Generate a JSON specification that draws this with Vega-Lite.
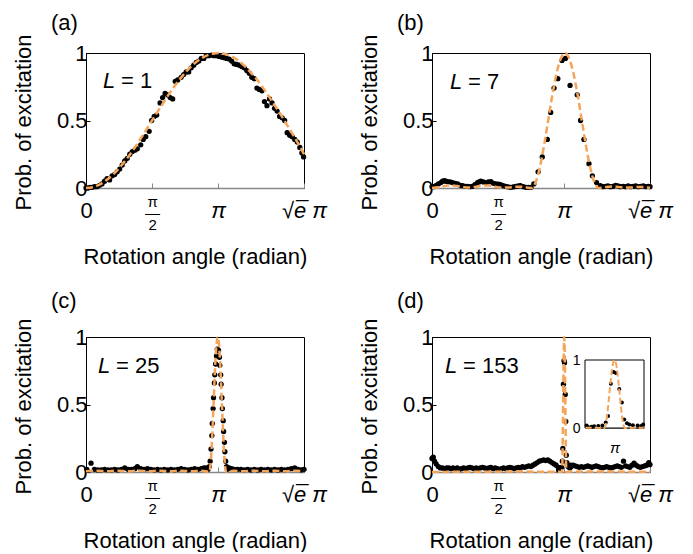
{
  "$schema": "https://vega.github.io/schema/vega-lite/v6.json",
  "padding": {"left": 11, "top": 11, "right": 5, "bottom": 0},
  "background": "white",
  "config": {
    "font": "Liberation Sans",
    "view": {"stroke": "black", "strokeWidth": 1},
    "axis": {"labelFont": "Liberation Sans", "titleFont": "Liberation Sans", "labelFontSize": 22, "titleFontSize": 22, "titleFontWeight": "normal", "labelColor": "black", "titleColor": "black", "grid": false},
    "title": {"font": "Liberation Sans", "fontSize": 22, "fontWeight": "normal", "anchor": "start", "frame": "group", "dx": -35, "baseline": "alphabetic", "color": "black"}
  },
  "datasets": {
    "a_pts": [
      {"t":0.00,"p":0.00},{"t":0.05,"p":0.00},{"t":0.10,"p":0.005},{"t":0.15,"p":0.005},{"t":0.20,"p":0.01},{"t":0.26,"p":0.01},{"t":0.32,"p":0.02},{"t":0.38,"p":0.03},{"t":0.44,"p":0.05},{"t":0.50,"p":0.07},{"t":0.56,"p":0.06},{"t":0.62,"p":0.09},{"t":0.68,"p":0.10},{"t":0.74,"p":0.12},{"t":0.80,"p":0.14},{"t":0.86,"p":0.17},{"t":0.92,"p":0.20},{"t":0.98,"p":0.22},{"t":1.04,"p":0.25},{"t":1.10,"p":0.27},{"t":1.16,"p":0.28},{"t":1.22,"p":0.29},{"t":1.30,"p":0.32},{"t":1.36,"p":0.36},{"t":1.42,"p":0.38},{"t":1.50,"p":0.42},{"t":1.56,"p":0.50},{"t":1.62,"p":0.53},{"t":1.68,"p":0.54},{"t":1.76,"p":0.63},{"t":1.82,"p":0.67},{"t":1.88,"p":0.70},{"t":1.94,"p":0.69},{"t":2.00,"p":0.67},{"t":2.06,"p":0.66},{"t":2.12,"p":0.79},{"t":2.18,"p":0.80},{"t":2.26,"p":0.82},{"t":2.32,"p":0.84},{"t":2.38,"p":0.86},{"t":2.44,"p":0.86},{"t":2.50,"p":0.89},{"t":2.56,"p":0.91},{"t":2.62,"p":0.93},{"t":2.68,"p":0.94},{"t":2.74,"p":0.96},{"t":2.80,"p":0.96},{"t":2.86,"p":0.98},{"t":2.92,"p":0.98},{"t":2.98,"p":0.985},{"t":3.04,"p":0.98},{"t":3.10,"p":0.98},{"t":3.16,"p":0.975},{"t":3.22,"p":0.97},{"t":3.28,"p":0.965},{"t":3.34,"p":0.96},{"t":3.40,"p":0.955},{"t":3.46,"p":0.94},{"t":3.52,"p":0.92},{"t":3.58,"p":0.915},{"t":3.64,"p":0.91},{"t":3.70,"p":0.90},{"t":3.76,"p":0.89},{"t":3.82,"p":0.87},{"t":3.88,"p":0.85},{"t":3.94,"p":0.82},{"t":4.00,"p":0.81},{"t":4.06,"p":0.74},{"t":4.12,"p":0.73},{"t":4.18,"p":0.72},{"t":4.24,"p":0.64},{"t":4.30,"p":0.61},{"t":4.36,"p":0.66},{"t":4.42,"p":0.63},{"t":4.48,"p":0.59},{"t":4.54,"p":0.57},{"t":4.60,"p":0.53},{"t":4.66,"p":0.52},{"t":4.72,"p":0.50},{"t":4.78,"p":0.41},{"t":4.84,"p":0.39},{"t":4.90,"p":0.38},{"t":4.96,"p":0.36},{"t":5.02,"p":0.34},{"t":5.08,"p":0.30},{"t":5.13,"p":0.26},{"t":5.17,"p":0.23}
    ],
    "a_fit": [
      {"t":0,"p":0},{"t":0.16,"p":0.006},{"t":0.32,"p":0.025},{"t":0.48,"p":0.057},{"t":0.64,"p":0.099},{"t":0.8,"p":0.152},{"t":0.96,"p":0.213},{"t":1.12,"p":0.282},{"t":1.28,"p":0.357},{"t":1.44,"p":0.435},{"t":1.6,"p":0.515},{"t":1.76,"p":0.594},{"t":1.92,"p":0.671},{"t":2.08,"p":0.744},{"t":2.24,"p":0.81},{"t":2.4,"p":0.869},{"t":2.56,"p":0.918},{"t":2.72,"p":0.956},{"t":2.88,"p":0.983},{"t":3.04,"p":0.997},{"t":3.14,"p":1.0},{"t":3.28,"p":0.995},{"t":3.44,"p":0.978},{"t":3.6,"p":0.948},{"t":3.76,"p":0.906},{"t":3.92,"p":0.853},{"t":4.08,"p":0.796},{"t":4.24,"p":0.727},{"t":4.4,"p":0.653},{"t":4.56,"p":0.576},{"t":4.72,"p":0.496},{"t":4.88,"p":0.414},{"t":5.04,"p":0.33},{"t":5.18,"p":0.25}
    ],
    "b_pts": [
      {"t":0.00,"p":0.01},{"t":0.05,"p":0.01},{"t":0.09,"p":0.017},{"t":0.15,"p":0.03},{"t":0.21,"p":0.04},{"t":0.25,"p":0.05},{"t":0.29,"p":0.055},{"t":0.33,"p":0.05},{"t":0.37,"p":0.047},{"t":0.43,"p":0.045},{"t":0.49,"p":0.04},{"t":0.55,"p":0.035},{"t":0.61,"p":0.03},{"t":0.67,"p":0.02},{"t":0.73,"p":0.017},{"t":0.79,"p":0.012},{"t":0.84,"p":0.012},{"t":0.90,"p":0.01},{"t":0.96,"p":0.012},{"t":1.02,"p":0.025},{"t":1.08,"p":0.04},{"t":1.12,"p":0.045},{"t":1.16,"p":0.05},{"t":1.22,"p":0.045},{"t":1.28,"p":0.04},{"t":1.34,"p":0.045},{"t":1.40,"p":0.047},{"t":1.46,"p":0.035},{"t":1.52,"p":0.03},{"t":1.58,"p":0.028},{"t":1.63,"p":0.025},{"t":1.69,"p":0.018},{"t":1.75,"p":0.012},{"t":1.81,"p":0.008},{"t":1.87,"p":0.005},{"t":1.93,"p":0.008},{"t":1.99,"p":0.012},{"t":2.05,"p":0.015},{"t":2.10,"p":0.017},{"t":2.17,"p":0.01},{"t":2.23,"p":0.005},{"t":2.29,"p":0.005},{"t":2.35,"p":0.005},
      {"t":2.42,"p":0.03},{"t":2.52,"p":0.12},{"t":2.62,"p":0.23},{"t":2.74,"p":0.36},{"t":2.82,"p":0.56},{"t":2.90,"p":0.74},{"t":2.99,"p":0.81},{"t":3.09,"p":0.945},{"t":3.17,"p":0.96},{"t":3.28,"p":0.76},{"t":3.45,"p":0.69},{"t":3.53,"p":0.50},{"t":3.61,"p":0.36},{"t":3.73,"p":0.18},{"t":3.81,"p":0.09},{"t":3.91,"p":0.04},{"t":4.00,"p":0.017},
      {"t":4.06,"p":0.01},{"t":4.12,"p":0.012},{"t":4.18,"p":0.015},{"t":4.24,"p":0.01},{"t":4.30,"p":0.012},{"t":4.36,"p":0.02},{"t":4.42,"p":0.015},{"t":4.48,"p":0.01},{"t":4.54,"p":0.012},{"t":4.60,"p":0.01},{"t":4.66,"p":0.015},{"t":4.72,"p":0.01},{"t":4.78,"p":0.012},{"t":4.84,"p":0.015},{"t":4.90,"p":0.01},{"t":4.96,"p":0.012},{"t":5.02,"p":0.015},{"t":5.08,"p":0.01},{"t":5.14,"p":0.012},{"t":5.18,"p":0.01}
    ],
    "b_fit": [
      {"t":0,"p":0},{"t":0.15,"p":0.006},{"t":0.3,"p":0.015},{"t":0.45,"p":0.02},{"t":0.6,"p":0.015},{"t":0.75,"p":0.006},{"t":0.9,"p":0.003},{"t":1.05,"p":0.01},{"t":1.2,"p":0.018},{"t":1.35,"p":0.018},{"t":1.5,"p":0.01},{"t":1.65,"p":0.004},{"t":1.8,"p":0.003},{"t":1.95,"p":0.008},{"t":2.1,"p":0.01},{"t":2.25,"p":0.004},{"t":2.36,"p":0},{"t":2.46,"p":0.04},{"t":2.56,"p":0.15},{"t":2.66,"p":0.31},{"t":2.76,"p":0.5},{"t":2.86,"p":0.69},{"t":2.96,"p":0.85},{"t":3.06,"p":0.96},{"t":3.16,"p":1.0},{"t":3.26,"p":0.96},{"t":3.36,"p":0.85},{"t":3.46,"p":0.69},{"t":3.56,"p":0.5},{"t":3.66,"p":0.31},{"t":3.76,"p":0.15},{"t":3.86,"p":0.04},{"t":3.96,"p":0},{"t":4.1,"p":0.006},{"t":4.3,"p":0.012},{"t":4.5,"p":0.005},{"t":4.7,"p":0.003},{"t":4.9,"p":0.008},{"t":5.05,"p":0.006},{"t":5.18,"p":0.002}
    ],
    "c_pts": [
      {"t":0.02,"p":0.02},{"t":0.12,"p":0.065},{"t":0.20,"p":0.02},{"t":0.28,"p":0.015},{"t":0.36,"p":0.015},{"t":0.44,"p":0.02},{"t":0.52,"p":0.015},{"t":0.60,"p":0.015},{"t":0.68,"p":0.02},{"t":0.76,"p":0.015},{"t":0.84,"p":0.02},{"t":0.92,"p":0.03},{"t":1.00,"p":0.02},{"t":1.08,"p":0.02},{"t":1.16,"p":0.025},{"t":1.22,"p":0.04},{"t":1.30,"p":0.025},{"t":1.38,"p":0.02},{"t":1.46,"p":0.025},{"t":1.54,"p":0.02},{"t":1.62,"p":0.015},{"t":1.70,"p":0.02},{"t":1.78,"p":0.015},{"t":1.86,"p":0.02},{"t":1.94,"p":0.015},{"t":2.02,"p":0.02},{"t":2.10,"p":0.015},{"t":2.18,"p":0.02},{"t":2.26,"p":0.025},{"t":2.34,"p":0.02},{"t":2.42,"p":0.015},{"t":2.50,"p":0.02},{"t":2.58,"p":0.025},{"t":2.66,"p":0.02},{"t":2.74,"p":0.025},{"t":2.80,"p":0.03},{"t":2.86,"p":0.03},{"t":2.90,"p":0.02},
      {"t":2.93,"p":0.04},{"t":2.95,"p":0.08},{"t":2.97,"p":0.17},{"t":2.99,"p":0.27},{"t":3.00,"p":0.36},{"t":3.02,"p":0.47},{"t":3.03,"p":0.55},{"t":3.05,"p":0.66},{"t":3.06,"p":0.72},{"t":3.08,"p":0.80},{"t":3.10,"p":0.86},{"t":3.12,"p":0.91},{"t":3.15,"p":0.90},{"t":3.17,"p":0.85},{"t":3.18,"p":0.79},{"t":3.20,"p":0.72},{"t":3.21,"p":0.65},{"t":3.23,"p":0.55},{"t":3.24,"p":0.47},{"t":3.26,"p":0.38},{"t":3.27,"p":0.30},{"t":3.29,"p":0.22},{"t":3.30,"p":0.15},{"t":3.32,"p":0.08},{"t":3.34,"p":0.04},{"t":3.36,"p":0.02},
      {"t":3.40,"p":0.03},{"t":3.46,"p":0.025},{"t":3.52,"p":0.02},{"t":3.60,"p":0.02},{"t":3.68,"p":0.02},{"t":3.76,"p":0.015},{"t":3.84,"p":0.02},{"t":3.92,"p":0.015},{"t":4.00,"p":0.02},{"t":4.08,"p":0.015},{"t":4.16,"p":0.02},{"t":4.24,"p":0.015},{"t":4.32,"p":0.02},{"t":4.40,"p":0.015},{"t":4.48,"p":0.02},{"t":4.56,"p":0.015},{"t":4.64,"p":0.02},{"t":4.72,"p":0.015},{"t":4.80,"p":0.02},{"t":4.88,"p":0.025},{"t":4.96,"p":0.03},{"t":5.04,"p":0.02},{"t":5.12,"p":0.015},{"t":5.18,"p":0.02}
    ],
    "c_fit": [
      {"t":0,"p":0.005},{"t":0.25,"p":0.01},{"t":0.5,"p":0.005},{"t":0.75,"p":0.01},{"t":1.0,"p":0.005},{"t":1.25,"p":0.01},{"t":1.5,"p":0.005},{"t":1.75,"p":0.01},{"t":2.0,"p":0.005},{"t":2.25,"p":0.01},{"t":2.5,"p":0.005},{"t":2.75,"p":0.01},{"t":2.93,"p":0},{"t":2.98,"p":0.146},{"t":3.03,"p":0.5},{"t":3.08,"p":0.854},{"t":3.13,"p":1.0},{"t":3.18,"p":0.854},{"t":3.23,"p":0.5},{"t":3.28,"p":0.146},{"t":3.33,"p":0},{"t":3.5,"p":0.01},{"t":3.75,"p":0.005},{"t":4.0,"p":0.01},{"t":4.25,"p":0.005},{"t":4.5,"p":0.01},{"t":4.75,"p":0.005},{"t":5.0,"p":0.01},{"t":5.18,"p":0.005}
    ],
    "d_pts": [
      {"t":0.00,"p":0.10},{"t":0.03,"p":0.11},{"t":0.06,"p":0.08},{"t":0.10,"p":0.06},{"t":0.15,"p":0.04},{"t":0.20,"p":0.03},{"t":0.25,"p":0.03},{"t":0.30,"p":0.025},{"t":0.35,"p":0.03},{"t":0.40,"p":0.03},{"t":0.45,"p":0.025},{"t":0.50,"p":0.03},{"t":0.55,"p":0.025},{"t":0.60,"p":0.03},{"t":0.65,"p":0.02},{"t":0.70,"p":0.025},{"t":0.75,"p":0.03},{"t":0.80,"p":0.025},{"t":0.85,"p":0.03},{"t":0.90,"p":0.035},{"t":0.95,"p":0.03},{"t":1.00,"p":0.025},{"t":1.05,"p":0.03},{"t":1.10,"p":0.025},{"t":1.15,"p":0.03},{"t":1.20,"p":0.035},{"t":1.25,"p":0.03},{"t":1.30,"p":0.025},{"t":1.35,"p":0.03},{"t":1.40,"p":0.035},{"t":1.45,"p":0.025},{"t":1.50,"p":0.03},{"t":1.55,"p":0.025},{"t":1.60,"p":0.02},{"t":1.65,"p":0.025},{"t":1.70,"p":0.03},{"t":1.75,"p":0.025},{"t":1.80,"p":0.03},{"t":1.85,"p":0.035},{"t":1.90,"p":0.03},{"t":1.95,"p":0.025},{"t":2.00,"p":0.03},{"t":2.05,"p":0.035},{"t":2.10,"p":0.03},{"t":2.15,"p":0.04},{"t":2.20,"p":0.035},{"t":2.25,"p":0.04},{"t":2.30,"p":0.045},{"t":2.35,"p":0.04},{"t":2.40,"p":0.05},{"t":2.45,"p":0.06},{"t":2.50,"p":0.07},{"t":2.55,"p":0.08},{"t":2.60,"p":0.085},{"t":2.65,"p":0.09},{"t":2.70,"p":0.085},{"t":2.75,"p":0.09},{"t":2.80,"p":0.08},{"t":2.85,"p":0.07},{"t":2.90,"p":0.06},{"t":2.95,"p":0.05},{"t":3.00,"p":0.035},
      {"t":3.007,"p":0.015},{"t":3.025,"p":0.02},{"t":3.038,"p":0.025},{"t":3.059,"p":0.03},{"t":3.080,"p":0.035},{"t":3.097,"p":0.08},{"t":3.109,"p":0.175},{"t":3.123,"p":0.65},{"t":3.137,"p":0.825},{"t":3.149,"p":0.81},{"t":3.166,"p":0.575},{"t":3.179,"p":0.375},{"t":3.191,"p":0.125},{"t":3.205,"p":0.07},{"t":3.217,"p":0.05},{"t":3.235,"p":0.04},{"t":3.259,"p":0.035},{"t":3.277,"p":0.03},{"t":3.287,"p":0.05},
      {"t":3.30,"p":0.04},{"t":3.35,"p":0.05},{"t":3.40,"p":0.045},{"t":3.45,"p":0.04},{"t":3.50,"p":0.035},{"t":3.55,"p":0.04},{"t":3.60,"p":0.035},{"t":3.65,"p":0.04},{"t":3.70,"p":0.045},{"t":3.75,"p":0.04},{"t":3.80,"p":0.035},{"t":3.85,"p":0.04},{"t":3.90,"p":0.045},{"t":3.95,"p":0.04},{"t":4.00,"p":0.035},{"t":4.05,"p":0.03},{"t":4.10,"p":0.035},{"t":4.15,"p":0.04},{"t":4.20,"p":0.035},{"t":4.25,"p":0.03},{"t":4.30,"p":0.035},{"t":4.35,"p":0.04},{"t":4.40,"p":0.045},{"t":4.45,"p":0.04},{"t":4.50,"p":0.035},{"t":4.55,"p":0.08},{"t":4.60,"p":0.045},{"t":4.65,"p":0.04},{"t":4.70,"p":0.035},{"t":4.75,"p":0.05},{"t":4.80,"p":0.065},{"t":4.85,"p":0.05},{"t":4.90,"p":0.04},{"t":4.95,"p":0.035},{"t":5.00,"p":0.04},{"t":5.05,"p":0.045},{"t":5.10,"p":0.05},{"t":5.15,"p":0.07},{"t":5.18,"p":0.055}
    ],
    "d_fit": [
      {"t":0,"p":0},{"t":1.0,"p":0.002},{"t":2.0,"p":0.003},{"t":2.995,"p":0.002},{"t":3.05,"p":0.002},{"t":3.089,"p":0},{"t":3.0966,"p":0.05},{"t":3.1041,"p":0.19},{"t":3.1116,"p":0.39},{"t":3.1191,"p":0.61},{"t":3.1266,"p":0.81},{"t":3.1341,"p":0.95},{"t":3.1416,"p":1.0},{"t":3.1491,"p":0.95},{"t":3.1566,"p":0.81},{"t":3.1641,"p":0.61},{"t":3.1716,"p":0.39},{"t":3.1791,"p":0.19},{"t":3.1866,"p":0.05},{"t":3.1941,"p":0},{"t":3.24,"p":0.002},{"t":3.29,"p":0.003},{"t":4.0,"p":0.003},{"t":5.18,"p":0.002}
    ]
  },
  "concat": [
    {
      "width": 218, "height": 135,
      "title": {"text": "(a)", "offset": -1},
      "layer": [
        {"data": {"name": "a_pts"}, "mark": {"type": "circle", "color": "black", "size": 28, "opacity": 1},
         "encoding": {
           "x": {"field": "t", "type": "quantitative", "scale": {"domain": [0, 5.1796], "nice": false, "zero": false},
                 "axis": {"values": [0, 1.5708, 3.1416, 5.1796], "labelExpr": "datum.value < 0.5 ? '0' : datum.value < 2 ? ['π', '—', '2'] : datum.value < 4 ? 'π' : '√e̅ π'", "labelFontSize": {"condition": {"test": "datum.value > 1 && datum.value < 2", "value": 15}, "value": 22}, "labelFontStyle": {"condition": {"test": "datum.value > 3", "value": "italic"}, "value": "normal"}, "labelPadding": {"condition": {"test": "datum.value > 1 && datum.value < 2", "value": 11}, "value": 17.5}, "labelLineHeight": 11.5, "labelFlush": false, "labelOverlap": false, "labelBound": false, "tickSize": -5, "tickColor": "#888888", "domainColor": "#888888", "domainWidth": 1.5, "title": "Rotation angle (radian)", "titleX": 109, "titleY": 75, "titleBaseline": "alphabetic", "titleAlign": "center"}},
           "y": {"field": "p", "type": "quantitative", "scale": {"domain": [0, 1], "nice": false},
                 "axis": {"values": [0, 0.5, 1], "format": "~g", "labelPadding": 3, "tickSize": -4, "tickColor": "black", "domainColor": "black", "title": "Prob. of excitation", "titleX": -63, "titleY": 69, "titleAngle": 270, "titleAlign": "center", "titleBaseline": "middle"}}
         }},
        {"data": {"name": "a_fit"}, "mark": {"type": "line", "color": "#F5A55A", "strokeWidth": 2.5, "strokeDash": [7, 3.5], "interpolate": "monotone"},
         "encoding": {"x": {"field": "t", "type": "quantitative"}, "y": {"field": "p", "type": "quantitative"}}},
        {"data": {"values": [{"t": 0.404, "p": 0.793, "l": "L", "r": "= 1"}]}, "mark": {"type": "text", "fontSize": 22, "fontStyle": "italic", "align": "left", "baseline": "middle", "color": "black"},
         "encoding": {"x": {"field": "t", "type": "quantitative"}, "y": {"field": "p", "type": "quantitative"}, "text": {"field": "l"}}},
        {"data": {"values": [{"t": 0.404, "p": 0.793, "l": "L", "r": "= 1"}]}, "mark": {"type": "text", "fontSize": 22, "align": "left", "baseline": "middle", "dx": 18, "color": "black"},
         "encoding": {"x": {"field": "t", "type": "quantitative"}, "y": {"field": "p", "type": "quantitative"}, "text": {"field": "r"}}}
      ]
    },
    {
      "width": 218, "height": 135,
      "title": {"text": "(b)", "offset": -1},
      "layer": [
        {"data": {"name": "b_pts"}, "mark": {"type": "circle", "color": "black", "size": 28, "opacity": 1},
         "encoding": {
           "x": {"field": "t", "type": "quantitative", "scale": {"domain": [0, 5.1796], "nice": false, "zero": false},
                 "axis": {"values": [0, 1.5708, 3.1416, 5.1796], "labelExpr": "datum.value < 0.5 ? '0' : datum.value < 2 ? ['π', '—', '2'] : datum.value < 4 ? 'π' : '√e̅ π'", "labelFontSize": {"condition": {"test": "datum.value > 1 && datum.value < 2", "value": 15}, "value": 22}, "labelFontStyle": {"condition": {"test": "datum.value > 3", "value": "italic"}, "value": "normal"}, "labelPadding": {"condition": {"test": "datum.value > 1 && datum.value < 2", "value": 11}, "value": 17.5}, "labelLineHeight": 11.5, "labelFlush": false, "labelOverlap": false, "labelBound": false, "tickSize": -5, "tickColor": "#888888", "domainColor": "#888888", "domainWidth": 1.5, "title": "Rotation angle (radian)", "titleX": 109, "titleY": 75, "titleBaseline": "alphabetic", "titleAlign": "center"}},
           "y": {"field": "p", "type": "quantitative", "scale": {"domain": [0, 1], "nice": false},
                 "axis": {"values": [0, 0.5, 1], "format": "~g", "labelPadding": 3, "tickSize": -4, "tickColor": "black", "domainColor": "black", "title": "Prob. of excitation", "titleX": -63, "titleY": 69, "titleAngle": 270, "titleAlign": "center", "titleBaseline": "middle"}}
         }},
        {"data": {"name": "b_fit"}, "mark": {"type": "line", "color": "#F5A55A", "strokeWidth": 2.5, "strokeDash": [7, 3.5], "interpolate": "monotone"},
         "encoding": {"x": {"field": "t", "type": "quantitative"}, "y": {"field": "p", "type": "quantitative"}}},
        {"data": {"values": [{"t": 0.43, "p": 0.785, "l": "L", "r": "= 7"}]}, "mark": {"type": "text", "fontSize": 22, "fontStyle": "italic", "align": "left", "baseline": "middle", "color": "black"},
         "encoding": {"x": {"field": "t", "type": "quantitative"}, "y": {"field": "p", "type": "quantitative"}, "text": {"field": "l"}}},
        {"data": {"values": [{"t": 0.43, "p": 0.785, "l": "L", "r": "= 7"}]}, "mark": {"type": "text", "fontSize": 22, "align": "left", "baseline": "middle", "dx": 18, "color": "black"},
         "encoding": {"x": {"field": "t", "type": "quantitative"}, "y": {"field": "p", "type": "quantitative"}, "text": {"field": "r"}}}
      ]
    },
    {
      "width": 218, "height": 135,
      "title": {"text": "(c)", "offset": 5},
      "layer": [
        {"data": {"name": "c_pts"}, "mark": {"type": "circle", "color": "black", "size": 28, "opacity": 1},
         "encoding": {
           "x": {"field": "t", "type": "quantitative", "scale": {"domain": [0, 5.1796], "nice": false, "zero": false},
                 "axis": {"values": [0, 1.5708, 3.1416, 5.1796], "labelExpr": "datum.value < 0.5 ? '0' : datum.value < 2 ? ['π', '—', '2'] : datum.value < 4 ? 'π' : '√e̅ π'", "labelFontSize": {"condition": {"test": "datum.value > 1 && datum.value < 2", "value": 15}, "value": 22}, "labelFontStyle": {"condition": {"test": "datum.value > 3", "value": "italic"}, "value": "normal"}, "labelPadding": {"condition": {"test": "datum.value > 1 && datum.value < 2", "value": 11}, "value": 17.5}, "labelLineHeight": 11.5, "labelFlush": false, "labelOverlap": false, "labelBound": false, "tickSize": -5, "tickColor": "#888888", "domainColor": "#888888", "domainWidth": 1.5, "title": "Rotation angle (radian)", "titleX": 109, "titleY": 75, "titleBaseline": "alphabetic", "titleAlign": "center"}},
           "y": {"field": "p", "type": "quantitative", "scale": {"domain": [0, 1], "nice": false},
                 "axis": {"values": [0, 0.5, 1], "format": "~g", "labelPadding": 3, "tickSize": -4, "tickColor": "black", "domainColor": "black", "title": "Prob. of excitation", "titleX": -63, "titleY": 69, "titleAngle": 270, "titleAlign": "center", "titleBaseline": "middle"}}
         }},
        {"data": {"name": "c_fit"}, "mark": {"type": "line", "color": "#F5A55A", "strokeWidth": 2.5, "strokeDash": [7, 3.5], "interpolate": "monotone"},
         "encoding": {"x": {"field": "t", "type": "quantitative"}, "y": {"field": "p", "type": "quantitative"}}},
        {"data": {"values": [{"t": 0.285, "p": 0.785, "l": "L", "r": "= 25"}]}, "mark": {"type": "text", "fontSize": 22, "fontStyle": "italic", "align": "left", "baseline": "middle", "color": "black"},
         "encoding": {"x": {"field": "t", "type": "quantitative"}, "y": {"field": "p", "type": "quantitative"}, "text": {"field": "l"}}},
        {"data": {"values": [{"t": 0.285, "p": 0.785, "l": "L", "r": "= 25"}]}, "mark": {"type": "text", "fontSize": 22, "align": "left", "baseline": "middle", "dx": 18, "color": "black"},
         "encoding": {"x": {"field": "t", "type": "quantitative"}, "y": {"field": "p", "type": "quantitative"}, "text": {"field": "r"}}}
      ]
    },
    {
      "width": 218, "height": 135,
      "title": {"text": "(d)", "offset": 5},
      "layer": [
        {"layer": [
          {"data": {"name": "d_pts"}, "mark": {"type": "circle", "color": "black", "size": 28, "opacity": 1},
           "encoding": {
             "x": {"field": "t", "type": "quantitative", "scale": {"domain": [0, 5.1796], "nice": false, "zero": false},
                   "axis": {"values": [0, 1.5708, 3.1416, 5.1796], "labelExpr": "datum.value < 0.5 ? '0' : datum.value < 2 ? ['π', '—', '2'] : datum.value < 4 ? 'π' : '√e̅ π'", "labelFontSize": {"condition": {"test": "datum.value > 1 && datum.value < 2", "value": 15}, "value": 22}, "labelFontStyle": {"condition": {"test": "datum.value > 3", "value": "italic"}, "value": "normal"}, "labelPadding": {"condition": {"test": "datum.value > 1 && datum.value < 2", "value": 11}, "value": 17.5}, "labelLineHeight": 11.5, "labelFlush": false, "labelOverlap": false, "labelBound": false, "tickSize": -5, "tickColor": "#888888", "domainColor": "#888888", "domainWidth": 1.5, "title": "Rotation angle (radian)", "titleX": 109, "titleY": 75, "titleBaseline": "alphabetic", "titleAlign": "center", "orient": "bottom"}},
             "y": {"field": "p", "type": "quantitative", "scale": {"domain": [0, 1], "nice": false},
                   "axis": {"values": [0, 0.5, 1], "format": "~g", "labelPadding": 3, "tickSize": -4, "tickColor": "black", "domainColor": "black", "title": "Prob. of excitation", "titleX": -63, "titleY": 69, "titleAngle": 270, "titleAlign": "center", "titleBaseline": "middle", "orient": "left"}}
           }},
          {"data": {"name": "d_fit"}, "mark": {"type": "line", "color": "#F5A55A", "strokeWidth": 2.5, "strokeDash": [7, 3.5], "interpolate": "monotone"},
           "encoding": {"x": {"field": "t", "type": "quantitative"}, "y": {"field": "p", "type": "quantitative"}}},
          {"data": {"values": [{"t": 0.31, "p": 0.785, "l": "L", "r": "= 153"}]}, "mark": {"type": "text", "fontSize": 22, "fontStyle": "italic", "align": "left", "baseline": "middle", "color": "black"},
           "encoding": {"x": {"field": "t", "type": "quantitative"}, "y": {"field": "p", "type": "quantitative"}, "text": {"field": "l"}}},
          {"data": {"values": [{"t": 0.31, "p": 0.785, "l": "L", "r": "= 153"}]}, "mark": {"type": "text", "fontSize": 22, "align": "left", "baseline": "middle", "dx": 18, "color": "black"},
           "encoding": {"x": {"field": "t", "type": "quantitative"}, "y": {"field": "p", "type": "quantitative"}, "text": {"field": "r"}}}
        ]},
        {"layer": [
          {"data": {"values": [{"x1": 2.9916, "x2": 3.2916, "y1": 0, "y2": 1}]}, "mark": {"type": "rect", "fill": "white", "stroke": "black", "strokeWidth": 1},
           "encoding": {
             "x": {"field": "x1", "type": "quantitative", "scale": {"domain": [2.9916, 3.2916], "range": [153, 212], "nice": false, "zero": false},
                   "axis": {"orient": "bottom", "offset": -44, "values": [3.1416], "labelExpr": "'π'", "labelFontSize": 15, "labelFontStyle": "italic", "tickSize": -3, "tickColor": "#888888", "domainColor": "#888888", "labelPadding": 15.5, "labelFlush": false, "title": null}},
             "x2": {"field": "x2"},
             "y": {"field": "y1", "type": "quantitative", "scale": {"domain": [0, 1], "range": [91, 23], "nice": false},
                   "axis": {"orient": "left", "offset": -153, "values": [0, 1], "format": "d", "labelFontSize": 14, "ticks": false, "labelPadding": 5, "domain": false, "title": null}},
             "y2": {"field": "y2"}
           }},
          {"data": {"name": "d_pts"}, "transform": [{"filter": "datum.t > 2.99 && datum.t < 3.295"}], "mark": {"type": "circle", "color": "black", "size": 16, "opacity": 1},
           "encoding": {"x": {"field": "t", "type": "quantitative"}, "y": {"field": "p", "type": "quantitative"}}},
          {"data": {"name": "d_fit"}, "transform": [{"filter": "datum.t > 2.99 && datum.t < 3.295"}], "mark": {"type": "line", "color": "#F5A55A", "strokeWidth": 2, "strokeDash": [6, 3], "interpolate": "monotone"},
           "encoding": {"x": {"field": "t", "type": "quantitative"}, "y": {"field": "p", "type": "quantitative"}}}
        ]}
      ],
      "resolve": {"scale": {"x": "independent", "y": "independent"}, "axis": {"x": "independent", "y": "independent"}}
    }
  ],
  "columns": 2,
  "spacing": {"row": 149, "column": 128},
  "bounds": "flush"
}
